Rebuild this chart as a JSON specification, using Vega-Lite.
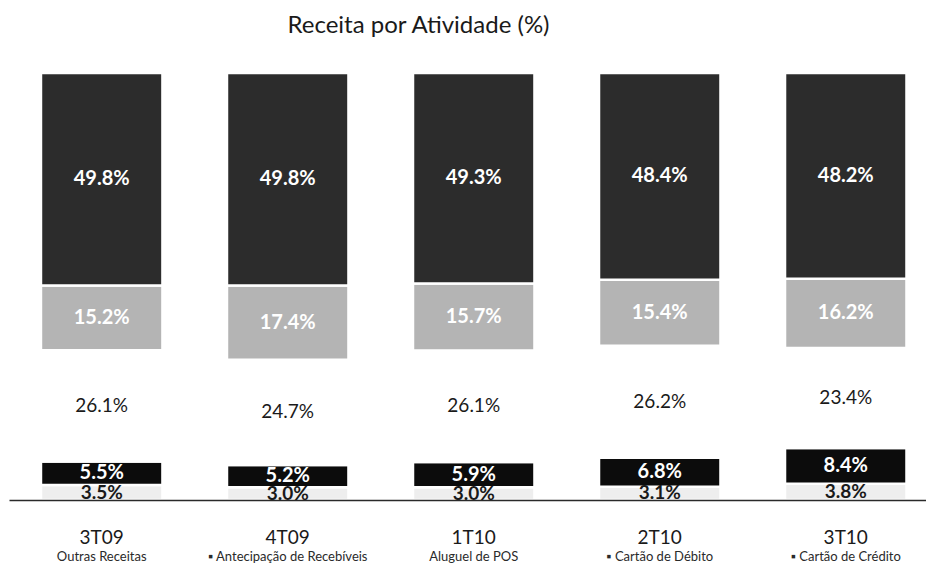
{
  "$schema": "https://vega.github.io/schema/vega-lite/v6.json",
  "autosize": "none",
  "width": 917,
  "height": 427,
  "padding": {"left": 9, "top": 73, "right": 0, "bottom": 63},
  "background": "white",
  "title": {
    "text": "Receita por Atividade (%)",
    "font": "Lato",
    "fontSize": 24,
    "fontWeight": "normal",
    "color": "#1a1a1a",
    "anchor": "middle",
    "dx": -49,
    "offset": 15,
    "baseline": "alphabetic"
  },
  "data": {
    "values": [
      {"trimestre": "3T09", "atividade": "Outras Receitas", "ordem": 1, "valor": 3.5},
      {"trimestre": "3T09", "atividade": "Antecipação de Recebíveis", "ordem": 2, "valor": 5.5},
      {"trimestre": "3T09", "atividade": "Aluguel de POS", "ordem": 3, "valor": 26.1},
      {"trimestre": "3T09", "atividade": "Cartão de Débito", "ordem": 4, "valor": 15.2},
      {"trimestre": "3T09", "atividade": "Cartão de Crédito", "ordem": 5, "valor": 49.8},
      {"trimestre": "4T09", "atividade": "Outras Receitas", "ordem": 1, "valor": 3.0},
      {"trimestre": "4T09", "atividade": "Antecipação de Recebíveis", "ordem": 2, "valor": 5.2},
      {"trimestre": "4T09", "atividade": "Aluguel de POS", "ordem": 3, "valor": 24.7},
      {"trimestre": "4T09", "atividade": "Cartão de Débito", "ordem": 4, "valor": 17.4},
      {"trimestre": "4T09", "atividade": "Cartão de Crédito", "ordem": 5, "valor": 49.8},
      {"trimestre": "1T10", "atividade": "Outras Receitas", "ordem": 1, "valor": 3.0},
      {"trimestre": "1T10", "atividade": "Antecipação de Recebíveis", "ordem": 2, "valor": 5.9},
      {"trimestre": "1T10", "atividade": "Aluguel de POS", "ordem": 3, "valor": 26.1},
      {"trimestre": "1T10", "atividade": "Cartão de Débito", "ordem": 4, "valor": 15.7},
      {"trimestre": "1T10", "atividade": "Cartão de Crédito", "ordem": 5, "valor": 49.3},
      {"trimestre": "2T10", "atividade": "Outras Receitas", "ordem": 1, "valor": 3.1},
      {"trimestre": "2T10", "atividade": "Antecipação de Recebíveis", "ordem": 2, "valor": 6.8},
      {"trimestre": "2T10", "atividade": "Aluguel de POS", "ordem": 3, "valor": 26.2},
      {"trimestre": "2T10", "atividade": "Cartão de Débito", "ordem": 4, "valor": 15.4},
      {"trimestre": "2T10", "atividade": "Cartão de Crédito", "ordem": 5, "valor": 48.4},
      {"trimestre": "3T10", "atividade": "Outras Receitas", "ordem": 1, "valor": 3.8},
      {"trimestre": "3T10", "atividade": "Antecipação de Recebíveis", "ordem": 2, "valor": 8.4},
      {"trimestre": "3T10", "atividade": "Aluguel de POS", "ordem": 3, "valor": 23.4},
      {"trimestre": "3T10", "atividade": "Cartão de Débito", "ordem": 4, "valor": 16.2},
      {"trimestre": "3T10", "atividade": "Cartão de Crédito", "ordem": 5, "valor": 48.2}
    ]
  },
  "transform": [
    {"stack": "valor", "groupby": ["trimestre"], "offset": "normalize", "sort": [{"field": "ordem", "order": "ascending"}], "as": ["v0", "v1"]},
    {"calculate": "(datum.v0 + datum.v1) / 2", "as": "meio"},
    {"calculate": "format(datum.valor, '.1f') + '%'", "as": "rotulo"}
  ],
  "encoding": {
    "x": {
      "field": "trimestre",
      "type": "nominal",
      "sort": ["3T09", "4T09", "1T10", "2T10", "3T10"],
      "scale": {"paddingInner": 0.347, "paddingOuter": 0.1384, "align": 0.621}
    }
  },
  "layer": [
    {
      "mark": {"type": "bar", "stroke": "white", "strokeWidth": 2.5},
      "encoding": {
        "x": {
          "field": "trimestre",
          "type": "nominal",
          "sort": ["3T09", "4T09", "1T10", "2T10", "3T10"],
          "axis": {
            "title": null,
            "orient": "bottom",
            "zindex": 1,
            "domain": true,
            "domainColor": "#2a2a2a",
            "domainWidth": 1.5,
            "ticks": false,
            "tickSize": 0,
            "labelAngle": 0,
            "labelFont": "Lato",
            "labelFontSize": 19,
            "labelColor": "#1a1a1a",
            "labelBaseline": "alphabetic",
            "labelPadding": 43,
            "labelOverlap": false
          }
        },
        "y": {"field": "v0", "type": "quantitative", "scale": {"domain": [0, 1], "nice": false, "zero": true}, "axis": null},
        "y2": {"field": "v1"},
        "color": {
          "field": "atividade",
          "type": "nominal",
          "scale": {
            "domain": ["Outras Receitas", "Antecipação de Recebíveis", "Aluguel de POS", "Cartão de Débito", "Cartão de Crédito"],
            "range": ["#eeeeee", "#0c0c0c", "#ffffff", "#b4b4b4", "#2c2c2c"]
          },
          "legend": null
        }
      }
    },
    {
      "transform": [{"filter": "indexof(['Cartão de Crédito','Cartão de Débito','Antecipação de Recebíveis'], datum.atividade) >= 0"}],
      "mark": {"type": "text", "font": "Lato", "fontSize": 20, "fontWeight": "bold", "color": "white", "baseline": "middle", "align": "center"},
      "encoding": {
        "x": {"field": "trimestre", "type": "nominal", "sort": ["3T09", "4T09", "1T10", "2T10", "3T10"], "axis": null},
        "y": {"field": "meio", "type": "quantitative", "axis": null},
        "text": {"field": "rotulo"}
      }
    },
    {
      "transform": [{"filter": "datum.atividade == 'Aluguel de POS'"}],
      "mark": {"type": "text", "font": "Lato", "fontSize": 19, "fontWeight": "normal", "color": "#1a1a1a", "baseline": "middle", "align": "center"},
      "encoding": {
        "x": {
          "field": "trimestre",
          "type": "nominal",
          "sort": ["3T09", "4T09", "1T10", "2T10", "3T10"],
          "axis": {
            "title": null,
            "orient": "bottom",
            "domain": false,
            "ticks": false,
            "tickSize": 0,
            "labelAngle": 0,
            "labelFont": "Lato",
            "labelFontSize": 13,
            "labelColor": "#2a2a2a",
            "labelBaseline": "alphabetic",
            "labelPadding": 60,
            "labelOverlap": false,
            "labelLimit": 300,
            "labelExpr": "{'3T09': 'Outras Receitas', '4T09': '▪ Antecipação de Recebíveis', '1T10': 'Aluguel de POS', '2T10': '▪ Cartão de Débito', '3T10': '▪ Cartão de Crédito'}[datum.value]"
          }
        },
        "y": {"field": "meio", "type": "quantitative", "axis": null},
        "text": {"field": "rotulo"}
      }
    },
    {
      "transform": [{"filter": "datum.atividade == 'Outras Receitas'"}],
      "mark": {"type": "text", "font": "Lato", "fontSize": 19, "fontWeight": "bold", "color": "#1a1a1a", "baseline": "middle", "align": "center"},
      "encoding": {
        "x": {"field": "trimestre", "type": "nominal", "sort": ["3T09", "4T09", "1T10", "2T10", "3T10"], "axis": null},
        "y": {"field": "meio", "type": "quantitative", "axis": null},
        "text": {"field": "rotulo"}
      }
    }
  ],
  "resolve": {"axis": {"x": "independent"}},
  "config": {"view": {"stroke": null}}
}
